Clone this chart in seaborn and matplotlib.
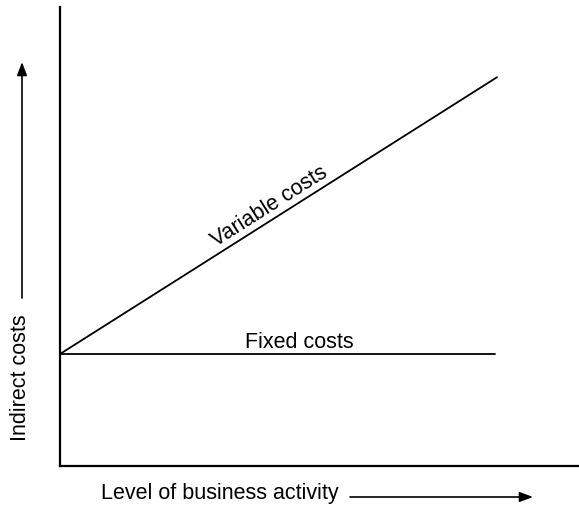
import numpy as np
import matplotlib.pyplot as plt
import seaborn as sns
import pandas as pd

# line end points (axes scaled 0-100)
activity_var = [0, 84.2]
variable_costs = [24.4, 84.7]
activity_fixed = [0, 83.8]
fixed_costs = [24.4, 24.4]

xlabel = "Level of business activity"
ylabel = "Indirect costs"

sns.set_style("white")
plt.rcParams['font.family'] = ['Liberation Sans', 'DejaVu Sans']
plt.rcParams['text.color'] = 'black'

fig = plt.figure(figsize=(5.79, 5.09), dpi=100)
ax = fig.add_axes([60/579, 43/509, 519/579, 459/509])

df_var = pd.DataFrame({"x": activity_var, "y": variable_costs})
df_fix = pd.DataFrame({"x": activity_fixed, "y": fixed_costs})
sns.lineplot(data=df_var, x="x", y="y", ax=ax, color="black", lw=1.3)
sns.lineplot(data=df_fix, x="x", y="y", ax=ax, color="black", lw=1.3)

ax.set_xlim(0, 100)
ax.set_ylim(0, 100)
ax.set_xticks([])
ax.set_yticks([])
ax.set_xlabel("")
ax.set_ylabel("")
for s in ["top", "right"]:
    ax.spines[s].set_visible(False)
for s in ["left", "bottom"]:
    ax.spines[s].set_color("black")
    ax.spines[s].set_linewidth(1.6)

# labels on the lines
ang = np.degrees(np.arctan2((variable_costs[1]-variable_costs[0])*459/100,
                            (activity_var[1]-activity_var[0])*519/100))
xm = 41.4
ym = variable_costs[0] + (variable_costs[1]-variable_costs[0])*xm/activity_var[1]
ax.text(xm, ym + 0.6, "Variable costs", rotation=ang, rotation_mode="anchor",
        ha="center", va="bottom", fontsize=15.5, color="black")
ax.text(46.2, fixed_costs[0] + 0.2, "Fixed costs", ha="center", va="bottom",
        fontsize=15.5, color="black")

# axis titles with arrows
fig.text(220/579, 1 - 493/509, xlabel, ha="center", va="center", fontsize=15.5, color="black")
fig.text(21/579, 1 - 378/509, ylabel, ha="center", va="center", rotation=90,
         fontsize=15.5, color="black")
fig.add_artist(plt.matplotlib.patches.FancyArrowPatch(
    (350/579, 1 - 497/509), (533/579, 1 - 497/509), transform=fig.transFigure,
    arrowstyle="-|>,head_length=8,head_width=3", color="black", lw=1.2,
    shrinkA=0, shrinkB=0))
fig.add_artist(plt.matplotlib.patches.FancyArrowPatch(
    (22/579, 1 - 298/509), (22/579, 1 - 62/509), transform=fig.transFigure,
    arrowstyle="-|>,head_length=8,head_width=3", color="black", lw=1.2,
    shrinkA=0, shrinkB=0))

plt.savefig("out.png", dpi=100)
